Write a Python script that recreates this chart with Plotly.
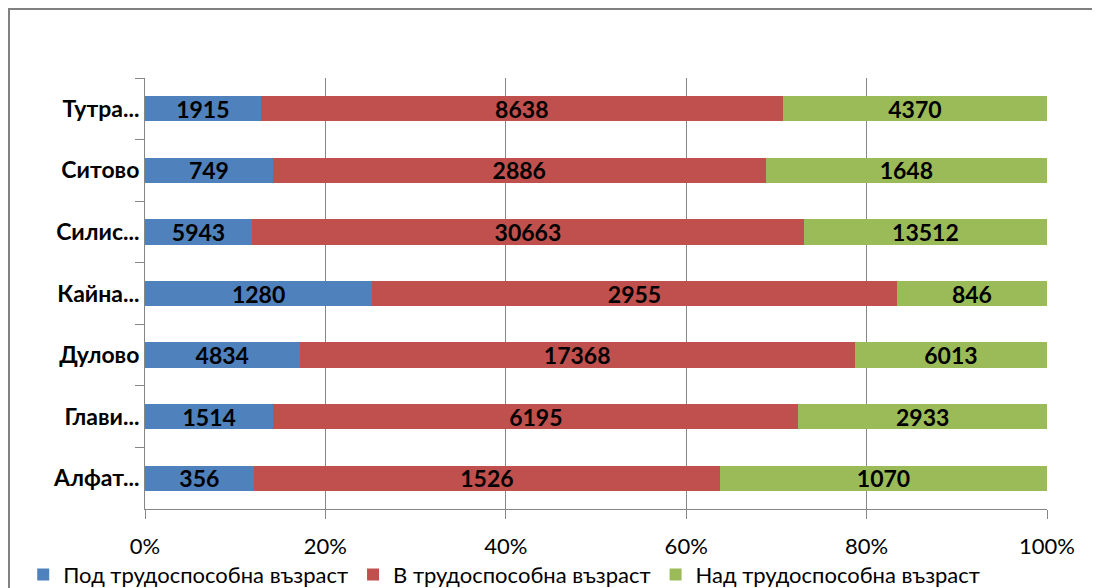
import plotly.graph_objects as go

categories = ["Тутра...", "Ситово", "Силис...", "Кайна...", "Дулово", "Глави...", "Алфат..."]
under_age = [1915, 749, 5943, 1280, 4834, 1514, 356]
working_age = [8638, 2886, 30663, 2955, 17368, 6195, 1526]
over_age = [4370, 1648, 13512, 846, 6013, 2933, 1070]
series_names = ["Под трудоспособна възраст", "В трудоспособна възраст", "Над трудоспособна възраст"]
colors = ["#4F81BD", "#C0504D", "#9BBB59"]
tick_vals = [0, 20, 40, 60, 80, 100]
tick_text = ["0%", "20%", "40%", "60%", "80%", "100%"]

FONT = "Lato, Carlito, 'Noto Sans', sans-serif"

fig = go.Figure()
for name, vals, col in zip(series_names, [under_age, working_age, over_age], colors):
    fig.add_trace(go.Bar(
        y=categories, x=vals, name=name, orientation="h",
        marker=dict(color=col, line=dict(width=0)),
        text=[str(v) for v in vals], textposition="inside",
        insidetextanchor="middle", textangle=0,
        textfont=dict(family=FONT, size=23, color="black", weight="bold"),
        hoverinfo="skip",
    ))

fig.update_layout(
    barmode="stack", barnorm="percent", bargap=0.59,
    width=1100, height=620,
    margin=dict(l=137, r=61, t=70, b=119),
    paper_bgcolor="white", plot_bgcolor="white",
    font=dict(family=FONT, size=22, color="black"),
    uniformtext=dict(minsize=23, mode="show"),
    showlegend=True,
    legend=dict(orientation="h", x=-0.135, xanchor="left", y=-0.104, yanchor="top",
                traceorder="normal",
                font=dict(family=FONT, size=22, color="black"),
                itemwidth=30, tracegroupgap=0, bgcolor="rgba(0,0,0,0)"),
    shapes=[dict(type="rect", xref="paper", yref="paper",
                 x0=-0.1508, x1=1.2, y0=-0.4, y1=1.16,
                 line=dict(color="#808080", width=2), layer="below")],
)
fig.update_xaxes(
    range=[0, 100], tickvals=tick_vals, ticktext=tick_text,
    showgrid=True, gridcolor="#868686", gridwidth=1,
    showline=True, linecolor="#868686", linewidth=1,
    ticks="outside", ticklen=9, tickcolor="#868686",
    ticklabelstandoff=9,
    tickfont=dict(family=FONT, size=22, color="black"),
    zeroline=False, fixedrange=True, automargin=False,
)
fig.update_yaxes(
    autorange="reversed", type="category",
    showline=True, linecolor="#868686", linewidth=1,
    ticks="outside", ticklen=9, tickcolor="#868686", tickson="boundaries",
    tickfont=dict(family=FONT, size=23, color="black", weight="bold"),
    showgrid=False, fixedrange=True, automargin=False,
)

fig.write_html("out.html")
